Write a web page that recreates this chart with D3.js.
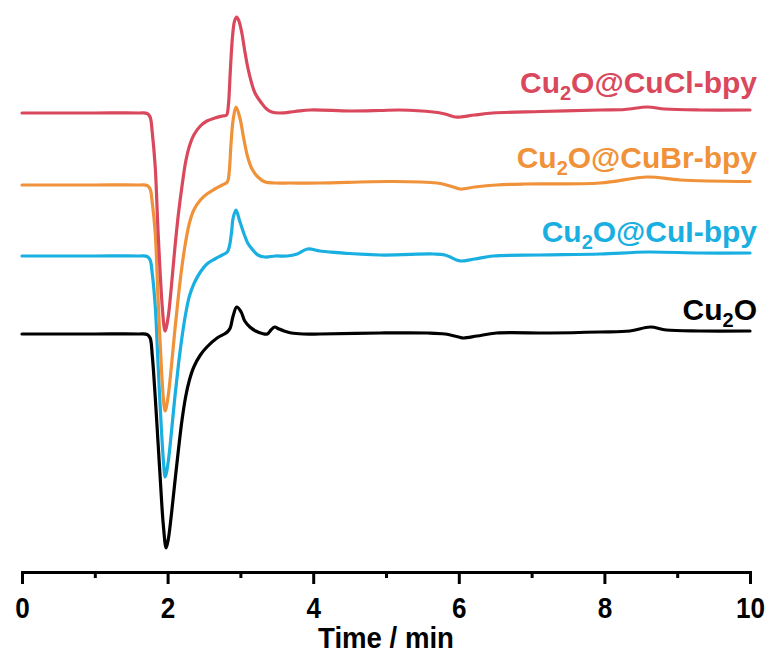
<!DOCTYPE html>
<html><head><meta charset="utf-8">
<script src="https://cdn.jsdelivr.net/npm/d3@7"></script>
<style>html,body{margin:0;padding:0;background:#fff}</style>
</head><body>
<svg id="chart" width="774" height="657"></svg>
<script>
// ---- data ----
const seriesNames = ["Cu2O@CuCl-bpy", "Cu2O@CuBr-bpy", "Cu2O@CuI-bpy", "Cu2O"];
const seriesColors = ["#d9485c", "#f0923a", "#19afe1", "#000000"];
const seriesOffsets = [221, 149, 78, 0]; // vertical stacking offsets (a.u.)

const cuclValues = [
  [0,0],[0.5,0],[1.0,0],[1.6,0],[1.72,-0.5],[1.76,-4],[1.79,-20],[1.83,-54],[1.87,-120],[1.92,-187],
  [1.95,-213],[1.965,-218],[1.98,-215],[2.01,-203],[2.05,-175],[2.10,-135],[2.15,-100],[2.20,-72],
  [2.25,-48],[2.30,-33],[2.36,-22],[2.45,-13],[2.54,-8],[2.65,-5],[2.75,-3],[2.81,-2],
  [2.835,8],[2.86,40],[2.89,75],[2.92,92],[2.95,96],[2.98,92],[3.02,80],[3.06,62],[3.10,46],[3.15,31],
  [3.20,20],[3.29,10],[3.36,4],[3.43,1],[3.54,0],[3.75,1.5],[3.96,3],[4.5,2],[4.92,2.5],[5.19,3],
  [5.65,1],[5.81,-1],[5.95,-4],[6.02,-4],[6.22,-2],[6.47,0],[7.12,1.5],[7.94,3],[8.28,3.5],[8.59,6],
  [8.83,4],[9.31,3],[10,3]
];
const cubrValues = [
  [0,0],[0.5,0],[1.0,0],[1.6,0],[1.72,-0.5],[1.76,-4],[1.79,-18],[1.83,-48],[1.87,-115],[1.92,-190],
  [1.95,-220],[1.965,-226],[1.98,-223],[2.01,-210],[2.05,-183],[2.10,-145],[2.15,-110],[2.20,-80],
  [2.25,-56],[2.30,-38],[2.36,-25],[2.45,-15],[2.54,-9],[2.65,-4],[2.75,0],[2.82,3],[2.845,12],[2.87,40],
  [2.90,65],[2.94,78],[2.99,68],[3.05,45],[3.10,28],[3.16,16],[3.24,8],[3.34,3],[3.48,2],[3.68,2],
  [4.09,2],[5.05,3.5],[5.70,2],[5.88,-1],[6.02,-4],[6.22,-2],[6.52,0],[6.9,1],[7.94,2],[8.59,8],
  [9.04,5],[10,3.5]
];
const cuiValues = [
  [0,0],[0.5,0],[1.0,0],[1.6,0],[1.72,-0.5],[1.76,-4],[1.79,-18],[1.83,-50],[1.87,-110],[1.92,-180],
  [1.95,-212],[1.965,-221],[1.98,-218],[2.01,-205],[2.05,-178],[2.10,-141],[2.15,-108],[2.20,-80],
  [2.25,-57],[2.30,-40],[2.36,-28],[2.45,-16],[2.54,-8],[2.65,-3],[2.75,1],[2.82,4],[2.85,10],[2.88,25],[2.90,38],
  [2.94,46],[2.99,35],[3.05,22],[3.10,13],[3.16,7],[3.24,1],[3.34,-1],[3.48,0],[3.64,0],[3.78,2],
  [3.92,7],[4.09,5],[4.23,4],[4.92,1],[5.65,2],[5.81,1],[5.97,-4],[6.02,-5],[6.22,-3],[6.47,0],
  [7.12,1],[7.94,2],[8.59,4],[9.31,3],[10,3]
];
const cu2oValues = [
  [0,0],[0.5,0],[1.0,0],[1.6,0],[1.72,-0.5],[1.76,-4],[1.79,-22],[1.83,-63],[1.87,-110],[1.90,-146],
  [1.94,-190],[1.98,-214],[2.01,-205],[2.05,-182],[2.10,-148],[2.15,-115],[2.20,-85],[2.25,-62],
  [2.30,-46],[2.36,-33],[2.45,-21],[2.54,-13],[2.68,-4],[2.78,0],[2.82,2],[2.86,6],[2.90,18],[2.95,27],
  [3.01,22],[3.06,13],[3.13,7],[3.21,3],[3.30,0.5],[3.37,0],[3.42,4],[3.47,7],[3.53,5],[3.60,3],
  [3.70,1],[3.86,0],[4.09,0],[4.92,1],[5.57,1],[5.81,0],[6.00,-3],[6.06,-4],[6.25,-2],[6.52,1],
  [7.25,1],[7.94,2],[8.35,3],[8.63,7],[8.85,4],[9.31,3],[10,3]
];
const seriesValues = [cuclValues, cubrValues, cuiValues, cu2oValues];

const xMajorTicks = [0, 2, 4, 6, 8, 10];
const xMinorTicks = [1, 3, 5, 7, 9];
const xTitle = "Time / min";

// ---- layout ----
const svg = d3.select("#chart");
const plot = {left: 22, right: 750, top: 0, bottom: 572};
const labelBaselines = [93, 168, 242, 320];
const labelRight = 757;
const FONT = "'Liberation Sans', Arial, sans-serif";

const x = d3.scaleLinear().domain([0, 10]).range([plot.left, plot.right]);
const y = d3.scaleLinear().domain([-238, 334]).range([plot.bottom, plot.top]);

const line = d3.line()
  .x(d => x(d[0]))
  .y(d => y(d[1]))
  .curve(d3.curveCatmullRom.alpha(0.5));

const order = [3, 2, 1, 0];
order.forEach(i => {
  const off = seriesOffsets[i];
  svg.append("path")
    .datum(seriesValues[i].map(d => [d[0], d[1] + off]))
    .attr("d", line)
    .attr("fill", "none")
    .attr("stroke", seriesColors[i])
    .attr("stroke-width", 3.2)
    .attr("stroke-linejoin", "round")
    .attr("stroke-linecap", "round");
});

// labels
seriesNames.forEach((name, i) => {
  const t = svg.append("text")
    .attr("x", labelRight)
    .attr("y", labelBaselines[i])
    .attr("text-anchor", "end")
    .attr("fill", seriesColors[i])
    .style("font-family", FONT)
    .style("font-weight", "bold")
    .style("font-size", "30px");
  t.append("tspan").text(name.slice(0, 2));
  t.append("tspan").attr("dy", 7).style("font-size", "20px").text(name.slice(2, 3));
  t.append("tspan").attr("dy", -7).text(name.slice(3));
});

// axis
const axisG = svg.append("g").attr("transform", `translate(0,${plot.bottom})`);
axisG.call(d3.axisBottom(x).tickValues(xMajorTicks).tickSize(12).tickSizeOuter(0).tickPadding(13).tickFormat(d3.format("d")));
const minorG = svg.append("g").attr("transform", `translate(0,${plot.bottom})`);
minorG.call(d3.axisBottom(x).tickValues(xMinorTicks).tickSize(6).tickSizeOuter(0).tickFormat(""));
minorG.select(".domain").remove();

[axisG, minorG].forEach(g => {
  g.selectAll("line").attr("stroke", "#000").attr("stroke-width", 3);
  g.select(".domain").attr("stroke", "#000").attr("stroke-width", 3).attr("stroke-linecap", "square");
});
axisG.selectAll("text")
  .attr("fill", "#000")
  .style("font-family", FONT)
  .style("font-weight", "bold")
  .style("font-size", "29px")
  .attr("transform", "scale(0.9,1)");

svg.append("text")
  .attr("transform", `translate(${(plot.left + plot.right) / 2},648) scale(0.92,1)`)
  .attr("text-anchor", "middle")
  .style("font-family", FONT)
  .style("font-weight", "bold")
  .style("font-size", "30px")
  .text(xTitle);
</script>
</body></html>
